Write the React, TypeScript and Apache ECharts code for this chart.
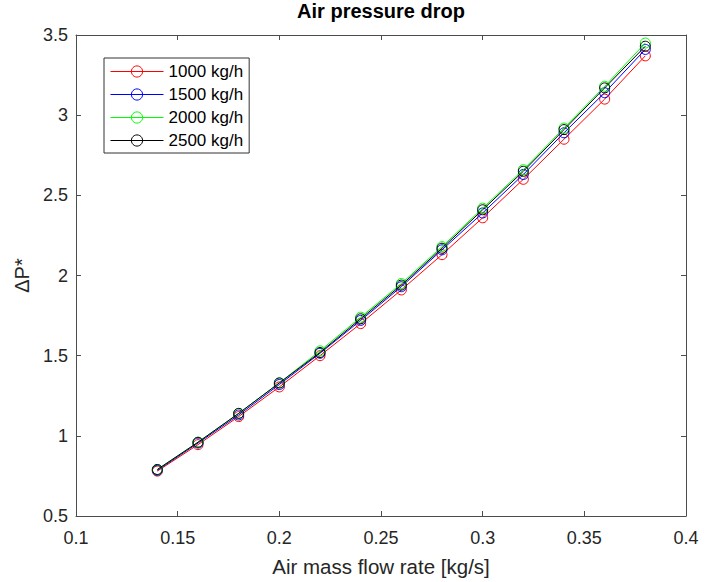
import React, { useEffect, useRef } from "react";
import * as echarts from "echarts";

const xValues = [0.14, 0.16, 0.18, 0.2, 0.22, 0.24, 0.26, 0.28, 0.3, 0.32, 0.34, 0.36, 0.38];
const seriesNames = ["1000 kg/h", "1500 kg/h", "2000 kg/h", "2500 kg/h"];
const red1000 = [0.78, 0.945, 1.12, 1.305, 1.5, 1.7, 1.91, 2.13, 2.36, 2.6, 2.85, 3.1, 3.37];
const blue1500 = [0.785, 0.955, 1.13, 1.32, 1.515, 1.72, 1.93, 2.16, 2.39, 2.63, 2.89, 3.14, 3.41];
const green2000 = [0.79, 0.96, 1.14, 1.33, 1.53, 1.74, 1.95, 2.18, 2.42, 2.66, 2.92, 3.18, 3.45];
const black2500 = [0.79, 0.96, 1.14, 1.33, 1.52, 1.73, 1.94, 2.17, 2.41, 2.65, 2.91, 3.17, 3.43];
const seriesValues = [red1000, blue1500, green2000, black2500];
const seriesColors = ["#ff0000", "#0000ff", "#00ff00", "#000000"];

const FONT = "Liberation Sans, Arial, sans-serif";
const AXIS_COLOR = "#4d4d4d";
const TEXT_COLOR = "#262626";

export default function App() {
  const ref = useRef<HTMLDivElement>(null);
  useEffect(() => {
    if (!ref.current) return;
    const chart = echarts.init(ref.current, undefined, { renderer: "svg" });
    const axisCommon = {
      axisLine: { show: true, onZero: false, lineStyle: { color: AXIS_COLOR, width: 1 } },
      axisTick: { show: true, inside: true, length: 5, lineStyle: { color: AXIS_COLOR } },
      splitLine: { show: false },
    };
    chart.setOption({
      animation: false,
      backgroundColor: "#ffffff",
      textStyle: { fontFamily: FONT },
      title: {
        text: "Air pressure drop",
        left: 381,
        textAlign: "center",
        top: 1,
        padding: 0,
        textStyle: { fontFamily: FONT, fontSize: 20, fontWeight: "bold", color: "#000" },
      },
      grid: { left: 76, right: 23, top: 35, bottom: 62, containLabel: false },
      legend: {
        left: 104,
        top: 58,
        orient: "vertical",
        data: seriesNames,
        itemWidth: 53,
        itemHeight: 14,
        itemGap: 6,
        padding: [5, 6, 4, 6],
        borderColor: "#333",
        borderWidth: 1,
        backgroundColor: "#fff",
        lineStyle: { width: 1 },
        itemStyle: { borderWidth: 1 },
        textStyle: { fontFamily: FONT, fontSize: 17, color: "#000", lineHeight: 16 },
      },
      xAxis: [
        {
          type: "value",
          min: 0.1,
          max: 0.4,
          interval: 0.05,
          position: "bottom",
          name: "Air mass flow rate [kg/s]",
          nameLocation: "middle",
          nameGap: 40,
          nameTextStyle: { fontFamily: FONT, fontSize: 20.5, color: TEXT_COLOR },
          axisLabel: { fontFamily: FONT, fontSize: 18, color: TEXT_COLOR, margin: 13 },
          ...axisCommon,
        },
        {
          type: "value",
          min: 0.1,
          max: 0.4,
          interval: 0.05,
          position: "top",
          axisLabel: { show: false },
          ...axisCommon,
        },
      ],
      yAxis: [
        {
          type: "value",
          min: 0.5,
          max: 3.5,
          interval: 0.5,
          position: "left",
          name: "ΔP*",
          nameLocation: "middle",
          nameGap: 38,
          nameRotate: 90,
          nameTextStyle: { fontFamily: FONT, fontSize: 20, color: TEXT_COLOR },
          axisLabel: { fontFamily: FONT, fontSize: 18, color: TEXT_COLOR, margin: 8 },
          ...axisCommon,
        },
        {
          type: "value",
          min: 0.5,
          max: 3.5,
          interval: 0.5,
          position: "right",
          axisLabel: { show: false },
          ...axisCommon,
        },
      ],
      series: seriesNames.map((name, i) => ({
        name,
        type: "line",
        xAxisIndex: 0,
        yAxisIndex: 0,
        data: xValues.map((x, j) => [x, seriesValues[i][j]]),
        symbol: "circle",
        symbolSize: 10,
        showAllSymbol: true,
        color: seriesColors[i],
        lineStyle: { color: seriesColors[i], width: 1 },
        itemStyle: { color: "rgba(255,255,255,0)", borderColor: seriesColors[i], borderWidth: 1 },
        emphasis: { disabled: true },
        z: 2 + i,
      })),
    });
    return () => chart.dispose();
  }, []);
  return (
    <div
      ref={ref}
      style={{ position: "fixed", left: 0, top: 0, width: 709, height: 582, background: "#fff" }}
    />
  );
}
